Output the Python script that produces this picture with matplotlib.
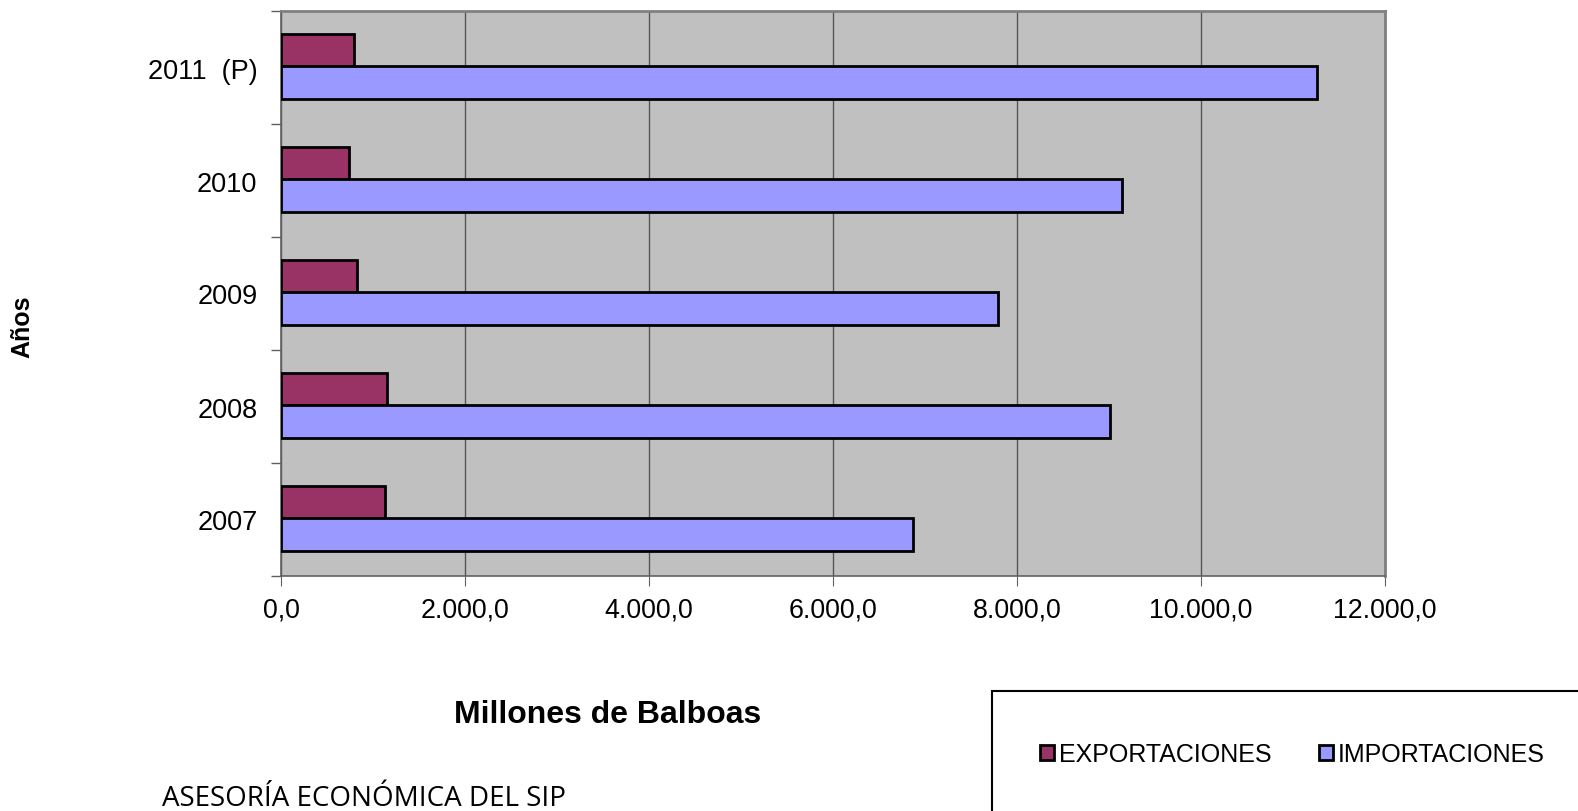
import numpy as np
import matplotlib.pyplot as plt
from matplotlib.patches import Rectangle

# data
years = ['2007', '2008', '2009', '2010', '2011  (P)']
exportaciones = [1130, 1147, 829, 736, 797]
importaciones = [6867, 9011, 7798, 9141, 11257]
xticks = [0, 2000, 4000, 6000, 8000, 10000, 12000]
xticklabels = ['0,0', '2.000,0', '4.000,0', '6.000,0', '8.000,0', '10.000,0', '12.000,0']

plt.rcParams['font.family'] = ['Liberation Sans', 'DejaVu Sans']

fig = plt.figure(figsize=(15.78, 8.12), dpi=100)
W, H = 1578, 812
ax = fig.add_axes([281 / W, 1 - 577 / H, 1104 / W, 565 / H])
ax.set_facecolor('#C0C0C0')

y = np.arange(len(years))
bh = 0.29
ax.barh(y + bh / 2 + 0.01, exportaciones, height=bh, color='#993366',
        edgecolor='black', linewidth=2, label='EXPORTACIONES', zorder=3)
ax.barh(y - bh / 2 + 0.01, importaciones, height=bh, color='#9999FF',
        edgecolor='black', linewidth=2, label='IMPORTACIONES', zorder=3)

ax.set_xlim(0, 12000)
ax.set_ylim(-0.5, len(years) - 0.5)
ax.set_xticks(xticks)
ax.set_xticklabels(xticklabels, fontsize=19.3)
ax.set_yticks(y)
ax.set_yticklabels(years, fontsize=19.5)
ax.set_yticks(np.arange(-0.5, len(years)), minor=True)
ax.tick_params(axis='y', which='major', length=0, pad=17)
ax.tick_params(axis='y', which='minor', length=7, color='#606060', width=1)
ax.tick_params(axis='x', length=7, color='#606060', pad=8)
ax.grid(axis='x', color='#555555', linewidth=1, zorder=1)
for s in ['top', 'right']:
    ax.spines[s].set_color('#808080')
    ax.spines[s].set_linewidth(2)
for s in ['left', 'bottom']:
    ax.spines[s].set_color('#606060')
    ax.spines[s].set_linewidth(1.2)

fig.text(22 / W, 1 - 327 / H, 'Años', rotation=90, fontsize=18, fontweight='bold',
         ha='center', va='center')
fig.text(608 / W, 1 - 715 / H, 'Millones de Balboas', fontsize=23, fontweight='bold',
         ha='center', va='center')
fig.text(162 / W, 1 - 799 / H, 'ASESORÍA ECONÓMICA DEL SIP', fontsize=20,
         family=['Open Sans', 'DejaVu Sans'], ha='left', va='center')

fig.patches.append(Rectangle((992 / W, -0.05), 0.5, 1 - 692 / H + 0.05,
                             transform=fig.transFigure, facecolor='white',
                             edgecolor='black', linewidth=1.5))
handles, labels = ax.get_legend_handles_labels()
leg = fig.legend(handles, labels, loc='center left', bbox_to_anchor=(1030 / W, 1 - 755 / H),
                 ncol=2, frameon=False, fontsize=18, handlelength=0.55, handleheight=0.55,
                 handletextpad=0.2, columnspacing=1.9, borderaxespad=0)

fig.savefig('out.png', dpi=100)
